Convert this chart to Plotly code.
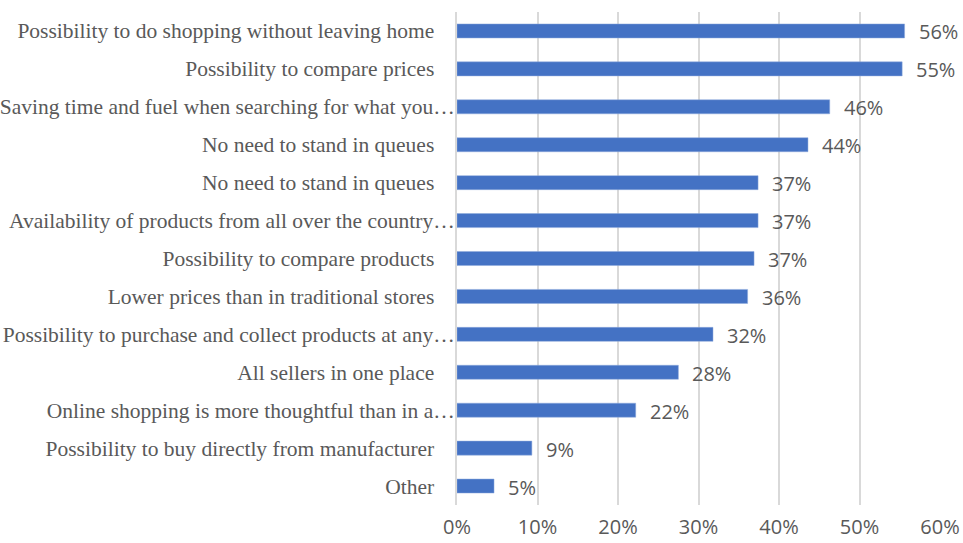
import plotly.graph_objects as go

categories = [
    "Possibility to do shopping without leaving home",
    "Possibility to compare prices",
    "Saving time and fuel when searching for what you…",
    "No need to stand in queues (a)",
    "No need to stand in queues (b)",
    "Availability of products from all over the country…",
    "Possibility to compare products",
    "Lower prices than in traditional stores",
    "Possibility to purchase and collect products at any…",
    "All sellers in one place",
    "Online shopping is more thoughtful than in a…",
    "Possibility to buy directly from manufacturer",
    "Other",
]
tick_labels = [
    "Possibility to do shopping without leaving home",
    "Possibility to compare prices",
    "Saving time and fuel when searching for what you…",
    "No need to stand in queues",
    "No need to stand in queues",
    "Availability of products from all over the country…",
    "Possibility to compare products",
    "Lower prices than in traditional stores",
    "Possibility to purchase and collect products at any…",
    "All sellers in one place",
    "Online shopping is more thoughtful than in a…",
    "Possibility to buy directly from manufacturer",
    "Other",
]
values = [0.556, 0.553, 0.463, 0.436, 0.374, 0.374, 0.369, 0.361, 0.318, 0.275, 0.222, 0.093, 0.046]
labels = ["56%", "55%", "46%", "44%", "37%", "37%", "37%", "36%", "32%", "28%", "22%", "9%", "5%"]
xticks = [0, 0.1, 0.2, 0.3, 0.4, 0.5, 0.6]
xticklabels = ["0%", "10%", "20%", "30%", "40%", "50%", "60%"]

# Excel lets truncated labels run up to the axis; full labels keep a gap
pad = "\u00a0\u00a0\u00a0\u2009"
shown = [t if t.endswith("…") else t + pad for t in tick_labels]

fig = go.Figure()
fig.add_trace(go.Bar(
    y=categories, x=values, orientation="h",
    marker=dict(color="#4472C4", line=dict(color="#8FAADC", width=0.5)),
    hoverinfo="skip",
))
for c, v, t in zip(categories, values, labels):
    fig.add_annotation(x=v, y=c, text=t, showarrow=False, xanchor="left",
                       xshift=12, yshift=-1,
                       font=dict(family="Open Sans, sans-serif", size=20, color="#595959"))

fig.update_layout(
    width=963, height=543,
    margin=dict(l=457, r=23, t=12, b=38),
    paper_bgcolor="white", plot_bgcolor="white",
    bargap=0.63, showlegend=False,
    xaxis=dict(range=[0, 0.6], tickvals=xticks, ticktext=xticklabels,
               showgrid=True, gridcolor="#d9d9d9", gridwidth=2,
               zeroline=False, showline=False, automargin=False,
               tickfont=dict(family="Open Sans, sans-serif", size=20, color="#595959"),
               ticklabelstandoff=8),
    yaxis=dict(autorange="reversed", categoryorder="array", categoryarray=categories,
               tickvals=categories, ticktext=shown,
               tickfont=dict(family="Liberation Serif, serif", size=21.5, color="#595959"),
               showline=True, linecolor="#d9d9d9", linewidth=2, automargin=False,
               ticklabelstandoff=-4),
)

fig.write_html("out.html")
